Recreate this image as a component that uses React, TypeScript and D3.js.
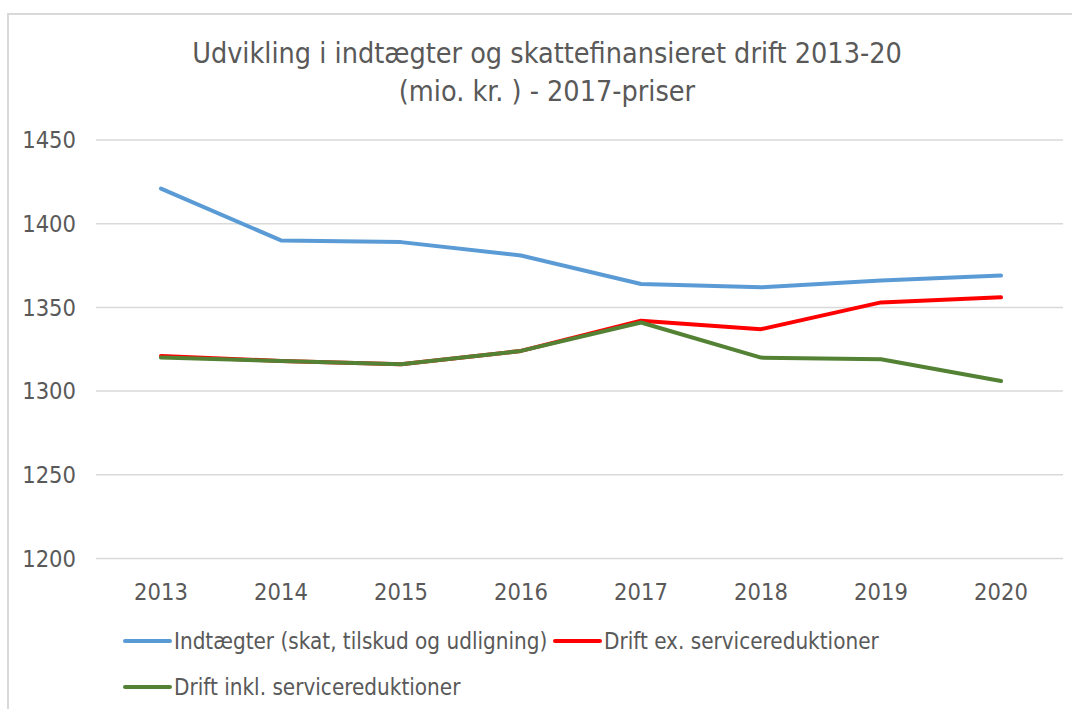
import React from "react";
import * as d3 from "d3";

const years = ["2013", "2014", "2015", "2016", "2017", "2018", "2019", "2020"];
const indtaegter = [1421, 1390, 1389, 1381, 1364, 1362, 1366, 1369];
const driftEx = [1321, 1318, 1316, 1324, 1342, 1337, 1353, 1356];
const driftInkl = [1320, 1318, 1316, 1324, 1341, 1320, 1319, 1306];
const yTicks = [1200, 1250, 1300, 1350, 1400, 1450];
const titleLines = ["Udvikling i indtægter og skattefinansieret drift 2013-20", "(mio. kr. ) - 2017-priser"];
const seriesNames = ["Indtægter (skat, tilskud og udligning)", "Drift ex. servicereduktioner", "Drift inkl. servicereduktioner"];

const W = 1072;
const H = 709;
const FONT = "'Liberation Sans Narrow', 'DejaVu Sans Condensed', Carlito, Calibri, sans-serif";
const TEXT = "#595959";

export default function App() {
  const x = d3.scaleBand<string>().domain(years).range([101, 1061]);
  const y = d3.scaleLinear().domain([1200, 1450]).range([558.5, 140]);
  const cx = (d: string) => (x(d) as number) + x.bandwidth() / 2;

  const line = d3
    .line<number>()
    .x((_, i) => cx(years[i]))
    .y((v) => y(v));

  const series = [
    { name: seriesNames[0], values: indtaegter, color: "#5B9BD5" },
    { name: seriesNames[1], values: driftEx, color: "#FF0000" },
    { name: seriesNames[2], values: driftInkl, color: "#548235" },
  ];

  const legend = [
    { s: series[0], lx: 125, ly: 641 },
    { s: series[1], lx: 555, ly: 641 },
    { s: series[2], lx: 125, ly: 687 },
  ];

  return (
    <svg
      width={W}
      height={H}
      style={{ position: "absolute", left: 0, top: 0, background: "#fff" }}
      fontFamily={FONT}
    >
      <rect x={0} y={0} width={W} height={H} fill="#fff" />
      <path d={`M8,${H} L8,14 L${W},14`} fill="none" stroke="#D9D9D9" strokeWidth={2} />

      {titleLines.map((t, i) => (
        <text
          key={i}
          x={547}
          y={63 + i * 38}
          textAnchor="middle"
          fontSize={28.5}
          fill={TEXT}
        >
          {t}
        </text>
      ))}

      {yTicks.map((t) => (
        <g key={t}>
          <line x1={96} x2={1063} y1={y(t)} y2={y(t)} stroke="#D9D9D9" strokeWidth={1.5} />
          <text x={76} y={y(t)} dy="0.35em" textAnchor="end" fontSize={23.5} fill={TEXT}>
            {t}
          </text>
        </g>
      ))}

      {years.map((yr) => (
        <text key={yr} x={cx(yr)} y={592} dy="0.35em" textAnchor="middle" fontSize={23.5} fill={TEXT}>
          {yr}
        </text>
      ))}

      {series.map((s) => (
        <path
          key={s.name}
          d={line(s.values) as string}
          fill="none"
          stroke={s.color}
          strokeWidth={4}
          strokeLinecap="round"
          strokeLinejoin="round"
        />
      ))}

      {legend.map(({ s, lx, ly }) => (
        <g key={s.name}>
          <line x1={lx} x2={lx + 45} y1={ly} y2={ly} stroke={s.color} strokeWidth={4} strokeLinecap="round" />
          <text x={lx + 49} y={ly} dy="0.35em" fontSize={22.3} fill={TEXT}>
            {s.name}
          </text>
        </g>
      ))}
    </svg>
  );
}
